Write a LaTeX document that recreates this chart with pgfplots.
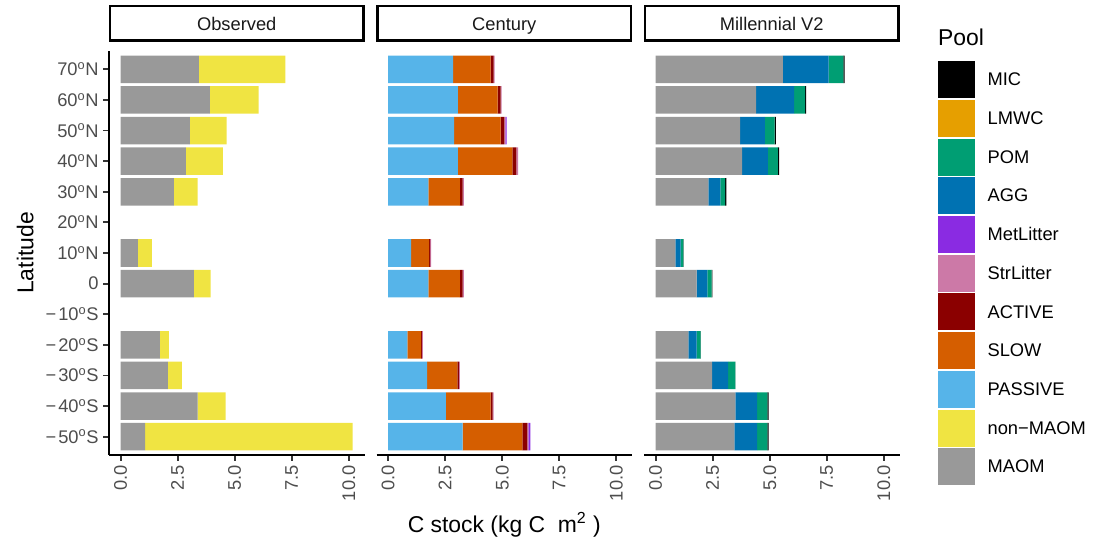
\documentclass[border=0pt]{standalone}
\usepackage{pgfplots}
\pgfplotsset{compat=1.18}
\usepackage{pgfplotstable}
\usepackage{fontspec}
\setmainfont{Liberation Sans}
\newcommand{\ticksize}{\fontsize{18.3bp}{22bp}\selectfont}
\newcommand{\titlesize}{\fontsize{22.9bp}{27bp}\selectfont}
\definecolor{cMIC}{HTML}{000000}
\definecolor{cLMWC}{HTML}{E69F00}
\definecolor{cPOM}{HTML}{009E73}
\definecolor{cAGG}{HTML}{0072B2}
\definecolor{cMet}{HTML}{8A2BE2}
\definecolor{cStr}{HTML}{CC79A7}
\definecolor{cACT}{HTML}{8B0000}
\definecolor{cSLOW}{HTML}{D55E00}
\definecolor{cPAS}{HTML}{56B4E9}
\definecolor{cNON}{HTML}{F0E442}
\definecolor{cMAOM}{HTML}{999999}
\definecolor{tickgray}{HTML}{4D4D4D}
\definecolor{gray20}{HTML}{333333}

\pgfplotstableread{
y MAOM NON
12 3.43 3.79
11 3.91 2.14
10 3.03 1.62
9 2.86 1.62
8 2.33 1.05
6 0.76 0.61
5 3.21 0.74
3 1.72 0.39
2 2.07 0.61
1 3.38 1.22
0 1.07 9.10
}\obs

\pgfplotstableread{
y PAS SLOW ACT STR MET
12 2.85 1.64 0.13 0.05 0
11 3.06 1.74 0.13 0.04 0
10 2.89 2.04 0.17 0.04 0.05
9 3.06 2.39 0.17 0.08 0
8 1.76 1.38 0.13 0.05 0
6 1.01 0.79 0.04 0.04 0
5 1.76 1.38 0.13 0.05 0
3 0.84 0.61 0.03 0.04 0
2 1.71 1.32 0.07 0.04 0
1 2.53 1.96 0.09 0.04 0
0 3.27 2.61 0.22 0.05 0.08
}\cent

\pgfplotstableread{
y MAOM AGG POM LMWC MIC
12 5.58 2.00 0.65 0 0.05
11 4.40 1.67 0.48 0 0.05
10 3.70 1.09 0.43 0 0.05
9 3.79 1.13 0.44 0 0.05
8 2.31 0.53 0.21 0 0.05
6 0.87 0.22 0.13 0 0.01
5 1.80 0.47 0.18 0 0.04
3 1.44 0.36 0.17 0 0.01
2 2.48 0.70 0.31 0 0.01
1 3.49 0.96 0.45 0 0.05
0 3.45 1.00 0.45 0 0.05
}\mill

\pgfplotsset{
  sq/.style={legend image code/.code={\fill[#1] (0bp,-18bp) rectangle (36bp,18bp);}},
  panel/.style={
    scale only axis, width=255.5bp, height=404bp,
    anchor=south west, clip=false,
    xbar stacked, bar width=0.9,
    xmin=-0.51, xmax=10.69, ymin=-0.6, ymax=12.6,
    axis x line*=bottom,
    axis line style={line width=2bp, black, -},
    xtick={0,2.5,5,7.5,10}, xticklabels={0.0,2.5,5.0,7.5,10.0},
    tick align=outside, major tick length=5.7bp,
    tick style={line width=1.8bp, color=gray20},
    xticklabel style={rotate=90, anchor=east, inner sep=0pt, font=\ticksize, text=tickgray},
    xticklabel shift=4.6bp,
    title style={at={(0.5,1)}, anchor=south, yshift=2.85bp, draw=black, line width=2.7bp,
      minimum width=253.3bp, minimum height=34.8bp, inner sep=0pt, font=\ticksize,
      text=black!90, text height=13.2bp, text depth=0pt},
  },
}

\begin{document}
\begin{tikzpicture}
\path[use as bounding box] (0,0) rectangle (1094bp,540bp);

% Observed
\begin{axis}[panel, at={(109bp,85bp)}, title={Observed},
  axis y line*=left,
  ytick={0,1,2,3,4,5,6,7,8,9,10,11,12},
  yticklabels={{−\hspace{2bp}50\textsuperscript{o}S},{−\hspace{2bp}40\textsuperscript{o}S},{−\hspace{2bp}30\textsuperscript{o}S},{−\hspace{2bp}20\textsuperscript{o}S},{−\hspace{2bp}10\textsuperscript{o}S},0,{10\textsuperscript{o}N},{20\textsuperscript{o}N},{30\textsuperscript{o}N},{40\textsuperscript{o}N},{50\textsuperscript{o}N},{60\textsuperscript{o}N},{70\textsuperscript{o}N}},
  yticklabel style={anchor=east, inner sep=0pt, font=\ticksize, text=tickgray},
  yticklabel shift=4.6bp,
  ylabel={Latitude},
  ylabel style={at={(axis description cs:-0.2963,0.5)}, anchor=base, rotate=0, font=\titlesize, text=black, inner sep=0pt},
]
\addplot[fill=cMAOM, draw=none] table[x=MAOM, y=y] {\obs};
\addplot[fill=cNON, draw=none] table[x=NON, y=y] {\obs};
\end{axis}

% Century
\begin{axis}[panel, at={(376.5bp,85bp)}, title={Century},
  axis y line=none,
  xlabel={C stock (kg C\hspace{0.55em}m\textsuperscript{2}\hspace{0.3em})},
  xlabel style={at={(axis description cs:0.5,-0.1906)}, anchor=base, font=\titlesize, text=black, inner sep=0pt},
]
\addplot[fill=cPAS, draw=none] table[x=PAS, y=y] {\cent};
\addplot[fill=cSLOW, draw=none] table[x=SLOW, y=y] {\cent};
\addplot[fill=cACT, draw=none] table[x=ACT, y=y] {\cent};
\addplot[fill=cStr, draw=none] table[x=STR, y=y] {\cent};
\addplot[fill=cMet, draw=none] table[x=MET, y=y] {\cent};
\end{axis}

% Millennial V2
\begin{axis}[panel, at={(644bp,85bp)}, title={Millennial V2},
  axis y line=none,
  legend style={at={(axis description cs:1.1507,0.975)}, anchor=north west, draw=none, fill=none,
    inner sep=0pt, row sep=2.3bp, column sep=13bp,
    nodes={inner sep=0pt, text depth=0pt, font=\ticksize, text=black}},
  legend cell align=left,
]
\addlegendimage{sq=cMIC}\addlegendentry{MIC}
\addlegendimage{sq=cLMWC}\addlegendentry{LMWC}
\addlegendimage{sq=cPOM}\addlegendentry{POM}
\addlegendimage{sq=cAGG}\addlegendentry{AGG}
\addlegendimage{sq=cMet}\addlegendentry{MetLitter}
\addlegendimage{sq=cStr}\addlegendentry{StrLitter}
\addlegendimage{sq=cACT}\addlegendentry{ACTIVE}
\addlegendimage{sq=cSLOW}\addlegendentry{SLOW}
\addlegendimage{sq=cPAS}\addlegendentry{PASSIVE}
\addlegendimage{sq=cNON}\addlegendentry{non−MAOM}
\addlegendimage{sq=cMAOM}\addlegendentry{MAOM}
\addplot[fill=cMAOM, draw=none] table[x=MAOM, y=y] {\mill};
\addplot[fill=cAGG, draw=none] table[x=AGG, y=y] {\mill};
\addplot[fill=cPOM, draw=none] table[x=POM, y=y] {\mill};
\addplot[fill=cLMWC, draw=none] table[x=LMWC, y=y] {\mill};
\addplot[fill=cMIC, draw=none] table[x=MIC, y=y] {\mill};
\node[anchor=base west, font=\titlesize, inner sep=0pt, text=black] at (axis description cs:1.1507,1.0124) {Pool};
\end{axis}
\end{tikzpicture}
\end{document}
